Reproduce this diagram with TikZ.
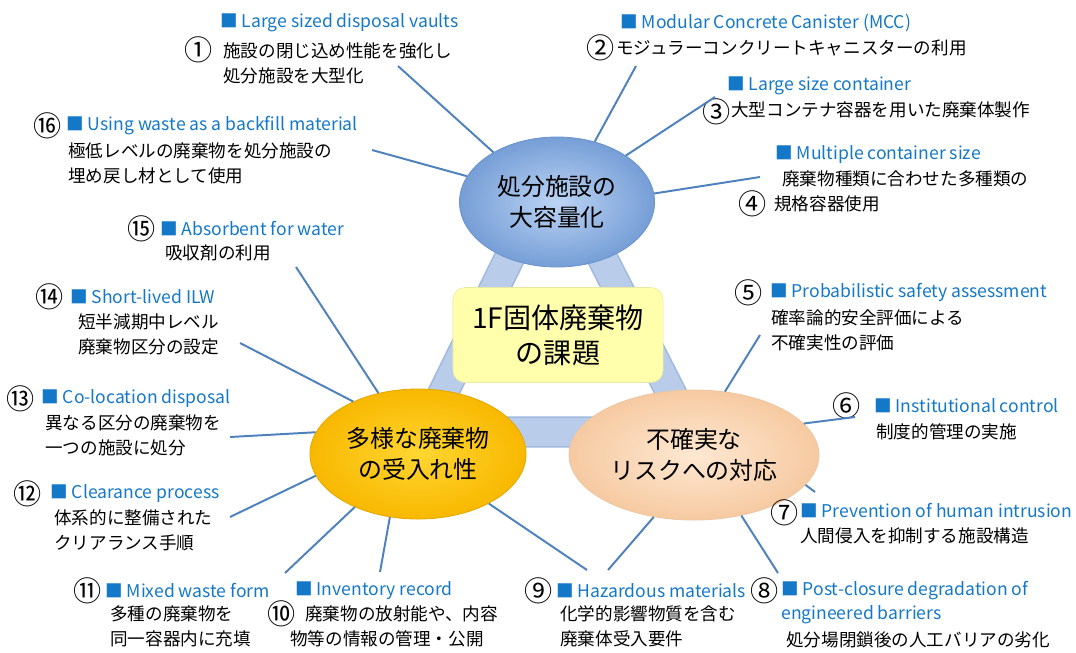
\documentclass[tikz,border=0pt]{standalone}
\usepackage{fontspec}
\setmainfont{Noto Sans CJK JP}
\usepackage{tikz}
\usetikzlibrary{shapes.geometric}
\definecolor{titleblue}{RGB}{20,120,200}
\definecolor{spokeblue}{RGB}{79,129,189}
\definecolor{bandfill}{RGB}{185,205,234}
\definecolor{bandedge}{RGB}{160,185,222}
\definecolor{capin}{RGB}{188,212,244}
\definecolor{capout}{RGB}{118,158,214}
\definecolor{capline}{RGB}{108,148,204}
\definecolor{goldin}{RGB}{255,214,50}
\definecolor{goldout}{RGB}{248,184,0}
\definecolor{goldline}{RGB}{228,168,0}
\definecolor{peachin}{RGB}{254,232,210}
\definecolor{peachout}{RGB}{246,202,162}
\definecolor{peachline}{RGB}{238,198,160}
\definecolor{corefill}{RGB}{255,255,172}
\definecolor{coreline}{RGB}{232,232,160}

\begin{document}
\begin{tikzpicture}[x=0.025cm,y=-0.025cm]
  \tikzstyle{numtag}=[font=\fontsize{20}{22}\selectfont,inner sep=0pt,anchor=west]
  \tikzstyle{headline}=[text=titleblue,font=\fontsize{12.5}{15}\selectfont,inner sep=0pt,anchor=west]
  \tikzstyle{remark}=[font=\fontsize{12.5}{17.8}\selectfont,align=left,inner sep=0pt,anchor=west]
  \tikzstyle{spoke}=[draw=spokeblue,line width=1.4pt]
  \tikzstyle{theme}=[ellipse,minimum width=4.875cm,minimum height=3.25cm,align=center,
                     font=\fontsize{17}{22}\selectfont,line width=0.6pt]
  \useasboundingbox (0,0) rectangle (1076,652);
  \draw[bandedge,line width=0.78cm,line join=round] (555,165) -- (424,432) -- (691,432) -- cycle;
  \draw[bandfill,line width=0.70cm,line join=round] (555,165) -- (424,432) -- (691,432) -- cycle;
  \node[theme,draw=capline,inner color=capin,outer color=capout](cap) at (557,202){処分施設の\\大容量化};
  \node[theme,draw=goldline,inner color=goldin,outer color=goldout](diverse) at (418,454){多様な廃棄物\\の受入れ性};
  \node[theme,draw=peachline,inner color=peachin,outer color=peachout](risk) at (694,455){不確実な\\リスクへの対応};
  \node[draw=coreline,fill=corefill,rounded corners=0.3cm,minimum width=5.25cm,minimum height=2.375cm,
        align=center,font=\fontsize{20}{25}\selectfont](core) at (558,335){1F固体廃棄物\\の課題};

  % top group
  \node[headline](t1) at (220,23){■ Large sized disposal vaults};
  \node[numtag](n1) at (184,50){①};
  \node[remark](b1) at (223,63){施設の閉じ込め性能を強化し\\処分施設を大型化};
  \node[headline](t2) at (620,23){■ Modular Concrete Canister (MCC)};
  \node[numtag](n2) at (586,48){②};
  \node[remark](b2) at (616,48){モジュラーコンクリートキャニスターの利用};
  \node[headline](t3) at (727,86){■ Large size container};
  \node[numtag](n3) at (702,112){③};
  \node[remark](b3) at (731,110){大型コンテナ容器を用いた廃棄体製作};
  \node[headline](t4) at (775,155){■ Multiple container size};
  \node[remark](b4) at (782,179){廃棄物種類に合わせた多種類の};
  \node[numtag](n4) at (738,204){④};
  \node[remark](b4x) at (774,204){規格容器使用};
  \node[numtag](n16) at (33,126){⑯};
  \node[headline](t16) at (66,126){■ Using waste as a backfill material};
  \node[remark](b16) at (68,163){極低レベルの廃棄物を処分施設の\\埋め戻し材として使用};

  % left group
  \node[numtag](n15) at (127,229){⑮};
  \node[headline](t15) at (160,229){■ Absorbent for water};
  \node[remark](b15) at (165,253){吸収剤の利用};
  \node[numtag](n14) at (35,297){⑭};
  \node[headline](t14) at (70,297){■ Short-lived ILW};
  \node[remark](b14) at (78,334){短半減期中レベル\\廃棄物区分の設定};
  \node[numtag](n13) at (6,399){⑬};
  \node[headline](t13) at (41,399){■ Co-location disposal};
  \node[remark](b13) at (45,435){異なる区分の廃棄物を\\一つの施設に処分};
  \node[numtag](n12) at (13,494){⑫};
  \node[headline](t12) at (50,494){■ Clearance process};
  \node[remark](b12) at (54,530){体系的に整備された\\クリアランス手順};

  % bottom group
  \node[numtag](n11) at (73,591){⑪};
  \node[headline](t11) at (105,591){■ Mixed waste form};
  \node[remark](b11) at (110,626){多種の廃棄物を\\同一容器内に充填};
  \node[headline](t10) at (295,591){■ Inventory record};
  \node[numtag](n10) at (267,614){⑩};
  \node[remark](b10) at (305,614){廃棄物の放射能や、内容};
  \node[remark](b10x) at (290,639){物等の情報の管理・公開};
  \node[numtag](n9) at (524,591){⑨};
  \node[headline](t9) at (556,591){■ Hazardous materials};
  \node[remark](b9) at (560,626){化学的影響物質を含む\\廃棄体受入要件};
  \node[numtag](n8) at (750,591){⑧};
  \node[headline](t8) at (781,591){■ Post-closure degradation of};
  \node[headline](t8x) at (781,615){engineered barriers};
  \node[remark](b8) at (786,640){処分場閉鎖後の人工バリアの劣化};

  % right group
  \node[numtag](n7) at (770,513){⑦};
  \node[headline](t7) at (800,511){■ Prevention of human intrusion};
  \node[remark](b7) at (800,536){人間侵入を抑制する施設構造};
  \node[numtag](n6) at (832,406){⑥};
  \node[headline](t6) at (874,406){■ Institutional control};
  \node[remark](b6) at (876,432){制度的管理の実施};
  \node[numtag](n5) at (734,293){⑤};
  \node[headline](t5) at (770,292){■ Probabilistic safety assessment};
  \node[remark](b5) at (771,330){確率論的安全評価による\\不確実性の評価};

  \coordinate (e1) at (398,66);
  \coordinate (e16) at (372,150);
  \coordinate (e2) at (636,66);
  \coordinate (e3) at (715,97);
  \coordinate (e4) at (760,177);
  \coordinate (e15) at (296,267);
  \coordinate (e14) at (240,343);
  \coordinate (e13) at (230,437);
  \coordinate (e12) at (230,517);
  \coordinate (e11) at (285,573);
  \coordinate (e10) at (380,572);
  \coordinate (e9) at (587,570);
  \coordinate (e9x) at (608,570);
  \coordinate (e8) at (778,573);
  \coordinate (e7) at (815,492);
  \coordinate (e6) at (855,417);
  \coordinate (e5) at (760,335);

  \draw[spoke] (cap.142) -- (e1);
  \draw[spoke] (cap.164) -- (e16);
  \draw[spoke] (cap.58) -- (e2);
  \draw[spoke] (cap.34) -- (e3);
  \draw[spoke] (cap.5) -- (e4);
  \draw[spoke] (diverse.123) -- (e15);
  \draw[spoke] (diverse.141) -- (e14);
  \draw[spoke] (diverse.168) -- (e13);
  \draw[spoke] (diverse.192) -- (e12);
  \draw[spoke] (diverse.220) -- (e11);
  \draw[spoke] (diverse.246) -- (e10);
  \draw[spoke] (diverse.325) -- (e9);
  \draw[spoke] (risk.237) -- (e9x);
  \draw[spoke] (risk.308) -- (e8);
  \draw[spoke] (risk.345) -- (e7);
  \draw[spoke] (risk.16) -- (e6);
  \draw[spoke] (risk.64) -- (e5);
\end{tikzpicture}
\end{document}
